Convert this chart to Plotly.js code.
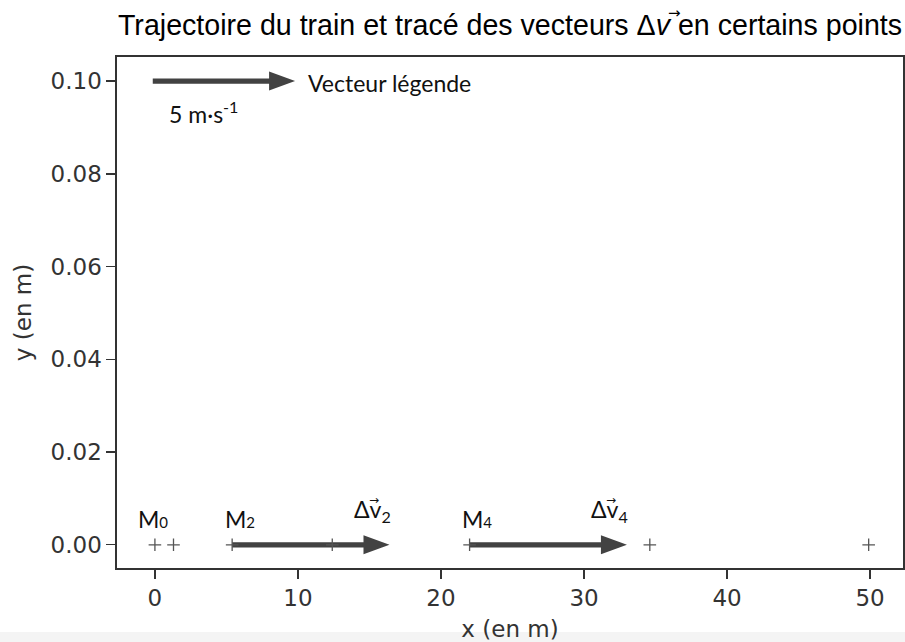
<!DOCTYPE html>
<html>
<head>
<meta charset="utf-8">
<script src="https://cdn.plot.ly/plotly-3.0.1.min.js"></script>
<style>html,body{margin:0;padding:0;background:#fff;}#chart{width:905px;height:642px;}</style>
</head>
<body>
<div id="chart"></div>
<script>
// ---- data ----
const pointNames = ["M0", "M1", "M2", "M3", "M4", "M5", "M6"];
const pointX = [0, 1.3, 5.4, 12.4, 22.0, 34.6, 49.9];
const pointY = [0, 0, 0, 0, 0, 0, 0];

// Δv vectors drawn at M2 and M4 (length in plot units, x direction)
const vecIndex = [2, 4];
const vecDx = [11.0, 11.0];
const vecSubs = ["2", "4"];

// legend vector: 5 m/s drawn as 10 plot units
const legendX0 = -0.15;
const legendY0 = 0.10;
const legendDx = 9.95;
const legendText = "Vecteur légende";
const legendUnit = "5 m·s<sup>-1</sup>";

const labelSubs = ["0", "2", "4"];
const labelIndex = [0, 2, 4];

const xTicks = [0, 10, 20, 30, 40, 50];
const yTicks = [0.00, 0.02, 0.04, 0.06, 0.08, 0.10];

// ---- layout geometry ----
const W = 905, H = 642;
const mL = 117, mR = 2, mT = 57, mB = 74;
const xRange = [-2.65, 52.3];
const yRange = [-0.005, 0.1052];
const pxX = (W - mL - mR) / (xRange[1] - xRange[0]);
const pxY = (H - mT - mB) / (yRange[1] - yRange[0]);

const arrowColor = "#424242";
const shaftHalf = 2.6, headLen = 26, headHalf = 9.5;

function arrowTrace(x0, y0, dx) {
  const tip = x0 + dx;
  const hb = tip - headLen / pxX;
  const sh = shaftHalf / pxY, hh = headHalf / pxY;
  return {
    type: "scatter", mode: "lines", hoverinfo: "skip", showlegend: false,
    x: [x0, hb, hb, tip, hb, hb, x0, x0],
    y: [y0 + sh, y0 + sh, y0 + hh, y0, y0 - hh, y0 - sh, y0 - sh, y0 + sh],
    fill: "toself", fillcolor: arrowColor, line: {width: 0, color: arrowColor}
  };
}

const traces = [];
traces.push(arrowTrace(legendX0, legendY0, legendDx));
vecIndex.forEach((k, i) => traces.push(arrowTrace(pointX[k], pointY[k], vecDx[i])));
traces.push({
  type: "scatter", mode: "markers", x: pointX, y: pointY, text: pointNames,
  showlegend: false, hoverinfo: "text",
  marker: {symbol: "cross-thin", size: 9, line: {width: 1.3, color: "#555"}, color: "#555"}
});

const annFamily = "Lato, 'Open Sans', sans-serif";
const annFont = {family: annFamily, size: 23, color: "#111"};
const ann = [];
// point labels
labelIndex.forEach((k, i) => {
  ann.push({x: pointX[k] - 1.3 + (k === 0 ? 0 : 0.65), y: 0.0056, xref: "x", yref: "y",
    text: "M<span style='font-size:15px'>" + labelSubs[i] + "</span>",
    showarrow: false, xanchor: "left", yanchor: "middle", font: annFont});
});
// vector labels
vecIndex.forEach((k, i) => {
  const lx = pointX[k] + vecDx[i] - 2.65;
  ann.push({x: lx, y: 0.0073, xref: "x", yref: "y",
    text: "Δv<sub>" + vecSubs[i] + "</sub>", showarrow: false,
    xanchor: "left", yanchor: "middle", font: annFont});
  ann.push({x: lx, y: 0.0073, xref: "x", yref: "y", xshift: 15, yshift: 11,
    text: "→", showarrow: false, xanchor: "left", yanchor: "middle",
    font: {family: "'DejaVu Sans', sans-serif", size: 12, color: "#111"}});
});
ann.push({x: legendX0 + legendDx + 0.75, y: legendY0 - 0.0004, xref: "x", yref: "y",
  text: legendText, showarrow: false, xanchor: "left", yanchor: "middle", font: annFont});
ann.push({x: legendX0 + 1.0, y: 0.0932, xref: "x", yref: "y",
  text: legendUnit, showarrow: false, xanchor: "left", yanchor: "middle", font: annFont});
// arrow over the v of the title
ann.push({x: (674 - mL) / (W - mL - mR), y: (H - mB - 13) / (H - mT - mB), xref: "paper", yref: "paper",
  text: "<i>→</i>", showarrow: false, xanchor: "center", yanchor: "middle",
  font: {family: "'DejaVu Sans', sans-serif", size: 15, color: "#000"}});

const tickFont = {family: "'DejaVu Sans', sans-serif", size: 23, color: "#333"};
const layout = {
  width: W, height: H,
  margin: {l: mL, r: mR, t: mT, b: mB, pad: 0},
  paper_bgcolor: "#fff", plot_bgcolor: "#fff",
  showlegend: false,
  title: {text: "Trajectoire du train et tracé des vecteurs Δ<i>v</i> en certains points",
    font: {family: "'Liberation Sans', Arial, sans-serif", size: 28.6, color: "#000"},
    x: 0.5, xref: "paper", xanchor: "center", y: 1 - 25 / H, yref: "container", yanchor: "middle"},
  xaxis: {range: xRange, tickvals: xTicks, ticktext: xTicks.map(String),
    ticks: "outside", ticklen: 9, tickwidth: 1.3, tickcolor: "#333",
    showline: true, mirror: true, linecolor: "#333", linewidth: 1.6,
    showgrid: false, zeroline: false, tickfont: tickFont,
    title: {text: "x (en m)", font: tickFont, standoff: 10}},
  yaxis: {range: yRange, tickvals: yTicks, ticktext: yTicks.map(v => v.toFixed(2)),
    ticks: "outside", ticklen: 9, tickwidth: 1.3, tickcolor: "#333",
    showline: true, mirror: true, linecolor: "#333", linewidth: 1.6,
    showgrid: false, zeroline: false, tickfont: tickFont,
    title: {text: "y (en m)", font: tickFont, standoff: 12}},
  annotations: ann,
  shapes: [{type: "rect", xref: "paper", yref: "paper", x0: -0.2, x1: 1.1,
    y0: -(632 - (H - mB)) / (H - mT - mB), y1: -(H - (H - mB)) / (H - mT - mB) - 0.01,
    fillcolor: "#f4f4f4", line: {width: 0}, layer: "below"}]
};

Plotly.newPlot("chart", traces, layout, {staticPlot: true, displayModeBar: false});
</script>
</body>
</html>
